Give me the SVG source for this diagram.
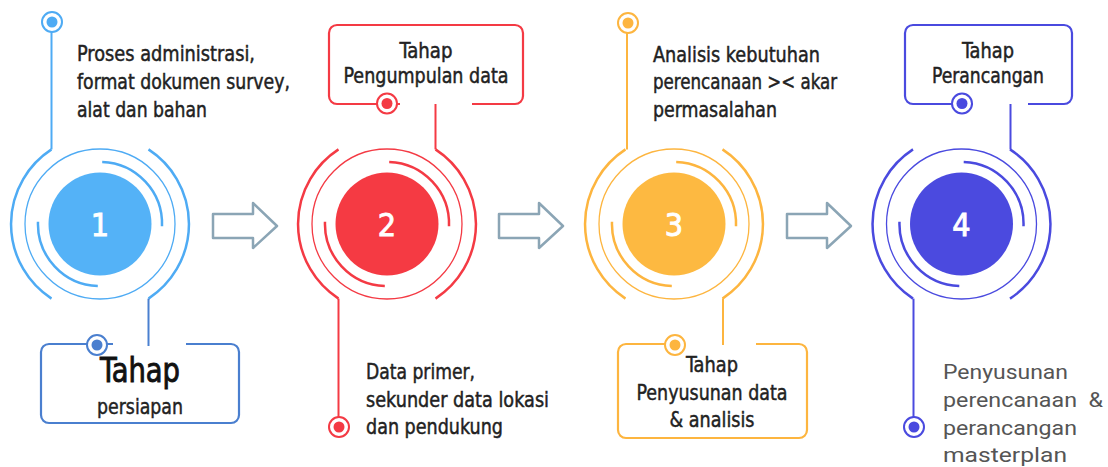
<svg xmlns="http://www.w3.org/2000/svg" xmlns:xlink="http://www.w3.org/1999/xlink" width="1108" height="467" viewBox="0 0 1108 467">
<style>
.t{font-family:"DejaVu Sans Condensed","Liberation Sans Narrow","DejaVu Sans",sans-serif;font-stretch:condensed;font-size:21px;fill:#222;stroke:#222;stroke-width:0.45;}
.c{text-anchor:middle;}
.num{font-family:"DejaVu Sans Condensed","DejaVu Sans",sans-serif;font-stretch:condensed;font-size:32px;fill:#fff;stroke:#fff;stroke-width:0.9;text-anchor:middle;}
.r{font-family:Roboto,"Noto Sans",sans-serif;font-size:20px;fill:#555;}
.ring{fill:none;stroke:currentColor;stroke-width:2.5;}
.thin{fill:none;stroke:currentColor;stroke-width:1.3;}
.ln{stroke-width:2;fill:none;}
.box{fill:none;stroke-width:2.2;}
.arrow{fill:#fff;stroke:#8ba5b5;stroke-width:2.5;stroke-linejoin:round;}
</style>
<defs>
<g id="rings">
<path class="ring" d="M -48.5 74.6 A 89 89 0 0 1 -48.5 -74.6"/>
<path class="ring" d="M 48.5 -74.6 A 89 89 0 0 1 48.5 74.6"/>
<circle class="thin" cx="0" cy="0" r="75"/>
<path class="ring" d="M 2.2 -62 A 62 62 0 0 1 62 2.2"/>
<path class="ring" d="M -2.2 62 A 62 62 0 0 1 -62 -2.2"/>
</g>
<g id="dot">
<circle cx="0" cy="0" r="10" fill="#fff" stroke="currentColor" stroke-width="2"/>
<circle cx="0" cy="0" r="5.5" fill="currentColor"/>
</g>
</defs>

<g id="connectors">
<path class="arrow" d="M213 214 H253 V203 L277 226 L253 248 V238 H213 Z"/>
<path class="arrow" d="M499 214 H539 V203 L563 226 L539 248 V238 H499 Z"/>
<path class="arrow" d="M787 214 H827 V203 L851 226 L827 248 V238 H787 Z"/>
</g>

<g id="stage1" color="#4eabf4">
<use xlink:href="#rings" x="100" y="224"/>
<circle cx="100" cy="224" r="51.5" fill="#54b2f7"/>
<text class="num" x="100" y="236">1</text>
<line class="ln" x1="51.5" y1="32" x2="51.5" y2="149.4" stroke="#4eabf4"/>
<use xlink:href="#dot" x="52" y="22"/>
<text class="t" x="77" y="61" textLength="178" lengthAdjust="spacingAndGlyphs">Proses administrasi,</text>
<text class="t" x="77" y="89" textLength="213" lengthAdjust="spacingAndGlyphs">format dokumen survey,</text>
<text class="t" x="77" y="117" textLength="130" lengthAdjust="spacingAndGlyphs">alat dan bahan</text>
</g>

<g id="box1" color="#4a7fcf">
<line class="ln" x1="148.5" y1="298.6" x2="148.5" y2="346" stroke="#4a80d0"/>
<path class="box" stroke="#4a7fcf" d="M113 344 H49 A8 8 0 0 0 41 352 V415 A8 8 0 0 0 49 423 H231 A8 8 0 0 0 239 415 V352 A8 8 0 0 0 231 344 H186"/>
<use xlink:href="#dot" x="97" y="345"/>
<text class="t c" x="140" y="382" style="font-size:34px;fill:#111;stroke:#111;stroke-width:0.9" textLength="80" lengthAdjust="spacingAndGlyphs">Tahap</text>
<text class="t c" x="140" y="414" style="font-size:22px" textLength="86" lengthAdjust="spacingAndGlyphs">persiapan</text>
</g>

<g id="stage2" color="#f43a44">
<use xlink:href="#rings" x="387" y="224"/>
<circle cx="387" cy="224" r="51.5" fill="#f53a43"/>
<text class="num" x="387" y="236">2</text>
<line class="ln" x1="338.5" y1="298.6" x2="338.5" y2="417" stroke="#f43a44"/>
<use xlink:href="#dot" x="339" y="427"/>
<text class="t" x="366" y="379" textLength="109" lengthAdjust="spacingAndGlyphs">Data primer,</text>
<text class="t" x="366" y="407" textLength="183" lengthAdjust="spacingAndGlyphs">sekunder data lokasi</text>
<text class="t" x="366" y="434" textLength="137" lengthAdjust="spacingAndGlyphs">dan pendukung</text>
</g>

<g id="box2" color="#f43a44">
<line class="ln" x1="435.5" y1="104" x2="435.5" y2="149.4" stroke="#f43a44"/>
<path class="box" stroke="#f43a44" d="M400 104 H337 A8 8 0 0 1 329 96 V33 A8 8 0 0 1 337 25 H515 A8 8 0 0 1 523 33 V96 A8 8 0 0 1 515 104 H472"/>
<use xlink:href="#dot" x="387" y="103.5"/>
<text class="t c" x="426" y="58" textLength="53" lengthAdjust="spacingAndGlyphs">Tahap</text>
<text class="t c" x="426" y="83" textLength="165" lengthAdjust="spacingAndGlyphs">Pengumpulan data</text>
</g>

<g id="stage3" color="#fdb53f">
<use xlink:href="#rings" x="674" y="224"/>
<circle cx="674" cy="224" r="51.5" fill="#fdb941"/>
<text class="num" x="674" y="236">3</text>
<line class="ln" x1="627" y1="32" x2="627" y2="149.4" stroke="#fdb53f"/>
<use xlink:href="#dot" x="628" y="23"/>
<text class="t" x="653" y="62" textLength="167" lengthAdjust="spacingAndGlyphs">Analisis kebutuhan</text>
<text class="t" x="653" y="89" textLength="184" lengthAdjust="spacingAndGlyphs">perencanaan &gt;&lt; akar</text>
<text class="t" x="653" y="117" textLength="124" lengthAdjust="spacingAndGlyphs">permasalahan</text>
</g>

<g id="box3" color="#fdb53f">
<line class="ln" x1="723" y1="298.6" x2="723" y2="345" stroke="#fdb53f"/>
<path class="box" stroke="#fdb53f" d="M685 344 H626 A8 8 0 0 0 618 352 V430 A8 8 0 0 0 626 438 H799 A8 8 0 0 0 807 430 V352 A8 8 0 0 0 799 344 H756"/>
<use xlink:href="#dot" x="675" y="345"/>
<text class="t c" x="712" y="372" textLength="52" lengthAdjust="spacingAndGlyphs">Tahap</text>
<text class="t c" x="712" y="400" textLength="151" lengthAdjust="spacingAndGlyphs">Penyusunan data</text>
<text class="t c" x="712" y="427" textLength="85" lengthAdjust="spacingAndGlyphs">&amp; analisis</text>
</g>

<g id="stage4" color="#4a4adf">
<use xlink:href="#rings" x="961.5" y="224"/>
<circle cx="961.5" cy="224" r="51.5" fill="#4b4adf"/>
<text class="num" x="961.5" y="236">4</text>
<line class="ln" x1="913.5" y1="298.6" x2="913.5" y2="417" stroke="#4a4adf"/>
<use xlink:href="#dot" x="914" y="427"/>
<text class="r" x="943" y="379" textLength="125" lengthAdjust="spacingAndGlyphs">Penyusunan</text>
<text class="r" x="943" y="407" textLength="160" lengthAdjust="spacingAndGlyphs" xml:space="preserve">perencanaan  &amp;</text>
<text class="r" x="943" y="435" textLength="134" lengthAdjust="spacingAndGlyphs">perancangan</text>
<text class="r" x="943" y="462" textLength="124" lengthAdjust="spacingAndGlyphs">masterplan</text>
</g>

<g id="box4" color="#4a4adf">
<line class="ln" x1="1010.5" y1="104" x2="1010.5" y2="149.4" stroke="#4a4adf"/>
<path class="box" stroke="#4a4adf" d="M973 104 H913 A8 8 0 0 1 905 96 V33 A8 8 0 0 1 913 25 H1064 A8 8 0 0 1 1072 33 V96 A8 8 0 0 1 1064 104 H1028"/>
<use xlink:href="#dot" x="962" y="103.5"/>
<text class="t c" x="988" y="58" textLength="52" lengthAdjust="spacingAndGlyphs">Tahap</text>
<text class="t c" x="988" y="83" textLength="112" lengthAdjust="spacingAndGlyphs">Perancangan</text>
</g>
</svg>
